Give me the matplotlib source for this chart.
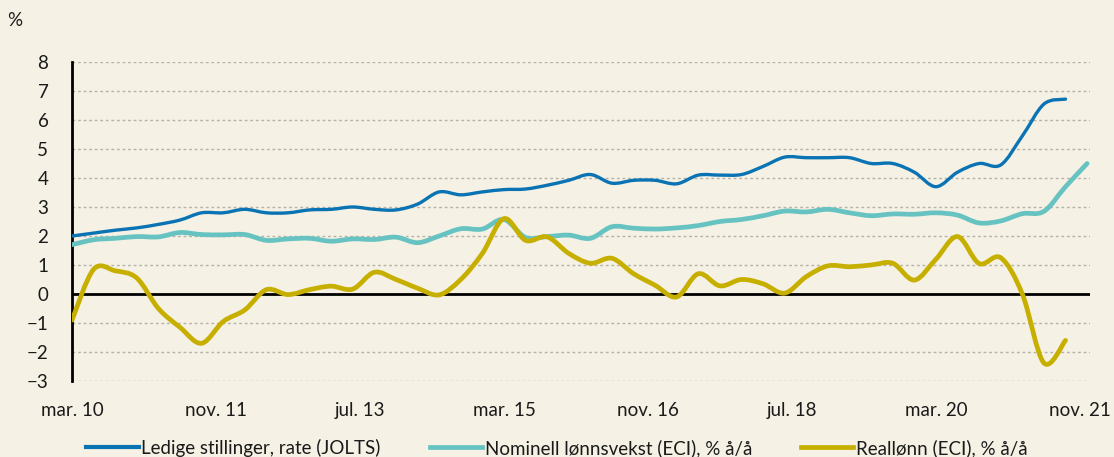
import numpy as np
import matplotlib
matplotlib.use("Agg")
import matplotlib.pyplot as plt
from matplotlib.path import Path
from matplotlib.patches import PathPatch
from matplotlib.lines import Line2D

plt.rcParams['font.family'] = ['Lato', 'DejaVu Sans']

# quarterly values, first point = mar. 2010 (x in months from mar. 10)
jolts = [2.0, 2.1, 2.2, 2.28, 2.4, 2.55, 2.8, 2.8, 2.92, 2.8, 2.8, 2.9, 2.92, 3.0,
         2.92, 2.9, 3.1, 3.52, 3.42, 3.52, 3.6, 3.62, 3.75, 3.92, 4.12, 3.82, 3.92,
         3.92, 3.8, 4.1, 4.1, 4.12, 4.4, 4.72, 4.7, 4.7, 4.7, 4.5, 4.5, 4.2, 3.7,
         4.2, 4.5, 4.45, 5.45, 6.55, 6.72]
eci = [1.7, 1.87, 1.92, 1.98, 1.97, 2.12, 2.05, 2.04, 2.05, 1.85, 1.9, 1.92, 1.82,
       1.9, 1.88, 1.96, 1.77, 2.0, 2.25, 2.24, 2.57, 1.95, 1.98, 2.03, 1.92, 2.32,
       2.27, 2.24, 2.28, 2.36, 2.5, 2.57, 2.7, 2.86, 2.83, 2.92, 2.8, 2.7, 2.76,
       2.75, 2.8, 2.72, 2.45, 2.52, 2.77, 2.85, 3.7, 4.5]
real = [-0.9, 0.85, 0.8, 0.55, -0.5, -1.15, -1.7, -0.95, -0.55, 0.15, -0.02, 0.15,
        0.27, 0.17, 0.75, 0.5, 0.2, -0.03, 0.5, 1.4, 2.6, 1.85, 1.97, 1.4, 1.06,
        1.23, 0.7, 0.3, -0.1, 0.7, 0.28, 0.5, 0.35, 0.03, 0.6, 0.97, 0.94, 1.0,
        1.06, 0.48, 1.2, 1.98, 1.05, 1.25, 0.0, -2.38, -1.6]

tick_pos = [0, 20, 40, 60, 80, 100, 120, 140]
tick_labels = ["mar. 10", "nov. 11", "jul. 13", "mar. 15", "nov. 16", "jul. 18",
               "mar. 20", "nov. 21"]
names = ["Ledige stillinger, rate (JOLTS)", "Nominell lønnsvekst (ECI), % å/å",
         "Reallønn (ECI), % å/å"]

c_blue = "#0A73B3"
c_teal = "#66C3C1"
c_gold = "#C7AF00"
bg = "#F5F1E4"
fs = 13.5


def smooth_path(x, y):
    # catmull-rom style bezier, like excel smoothed lines
    x = np.asarray(x, float)
    y = np.asarray(y, float)
    pts = np.column_stack([x, y])
    verts = [pts[0]]
    codes = [Path.MOVETO]
    n = len(pts)
    for i in range(n - 1):
        p0 = pts[max(i - 1, 0)]
        p1 = pts[i]
        p2 = pts[i + 1]
        p3 = pts[min(i + 2, n - 1)]
        c1 = p1 + (p2 - p0) / 6.0
        c2 = p2 - (p3 - p1) / 6.0
        verts += [c1, c2, p2]
        codes += [Path.CURVE4] * 3
    return Path(verts, codes)


fig = plt.figure(figsize=(11.14, 4.57), dpi=100)
fig.patch.set_facecolor(bg)
ax = fig.add_axes([72 / 1114, 76 / 457, (1090 - 72) / 1114, (381 - 62) / 457])
ax.set_facecolor(bg)

for ys in range(-3, 9):
    if ys != 0:
        ax.axhline(ys, color="#B5B2AA", lw=1.0, ls=(0, (2, 2)), zorder=1)
ax.axhline(0, color="black", lw=2.0, zorder=2)

series = [(eci, c_teal, 3.4, 3), (real, c_gold, 3.4, 4), (jolts, c_blue, 2.4, 5)]
for vals, col, lw, z in series:
    xs = np.arange(len(vals)) * 3
    p = PathPatch(smooth_path(xs, vals), fill=False, edgecolor=col, lw=lw,
                  capstyle="round", joinstyle="round", zorder=z)
    ax.add_patch(p)

ax.set_xlim(0, 141.4)
ax.set_ylim(-3, 8)
ax.set_yticks(range(-3, 9))
ax.set_xticks(tick_pos)
ax.set_xticklabels(tick_labels)
ax.tick_params(axis="both", length=0, labelsize=fs, colors="#1a1a1a")
ax.tick_params(axis="y", pad=17)
ax.tick_params(axis="x", pad=15)

for s in ["top", "right", "bottom"]:
    ax.spines[s].set_visible(False)
ax.spines["left"].set_linewidth(2)
ax.spines["left"].set_color("black")

fig.text(15 / 1114, 1 - 20 / 457, "%", fontsize=fs, color="#1a1a1a",
         ha="center", va="center")

handles = [Line2D([], [], color=c_blue, lw=3),
           Line2D([], [], color=c_teal, lw=3.4),
           Line2D([], [], color=c_gold, lw=3.4)]
fig.legend(handles, names, loc="center", bbox_to_anchor=(0.5, 1 - 448 / 457),
           ncol=3, frameon=False, fontsize=fs, handlelength=2.8,
           handletextpad=0.15, columnspacing=2.6, labelcolor="#1a1a1a")

fig.savefig("out.png", dpi=100, facecolor=bg)
